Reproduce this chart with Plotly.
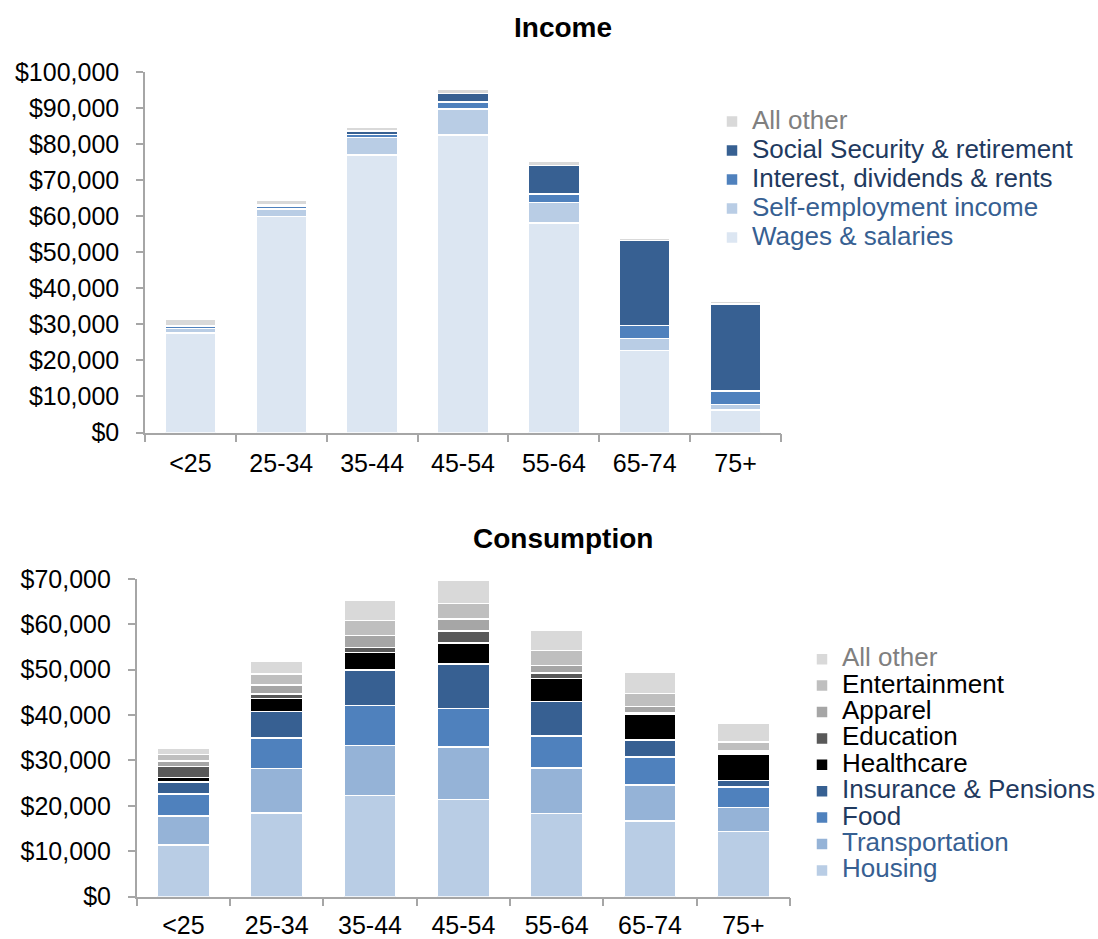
import plotly.graph_objects as go

W, H = 1098, 939

ages = ["<25", "25-34", "35-44", "45-54", "55-64", "65-74", "75+"]

# Income components ($)
wages = [27600, 59900, 77000, 82500, 58100, 22800, 6300]
self_employment = [1300, 2100, 4800, 7300, 5700, 3300, 1500]
interest = [500, 700, 800, 1900, 2300, 3600, 3700]
social_security = [300, 400, 1100, 2400, 7900, 23600, 24100]
income_other = [1700, 1200, 1100, 1100, 1200, 600, 700]

# Consumption components ($)
housing = [11400, 18400, 22300, 21400, 18300, 16600, 14300]
transportation = [6400, 9800, 11000, 11600, 10000, 8000, 5300]
food = [4800, 6700, 8800, 8500, 7100, 6200, 4500]
insurance = [2600, 5900, 7800, 9800, 7600, 3700, 1500]
healthcare = [1000, 2800, 3900, 4600, 5100, 5700, 5700]
education = [2500, 1100, 1100, 2600, 1200, 300, 300]
apparel = [1200, 1900, 2600, 2700, 1600, 1400, 500]
entertainment = [1400, 2500, 3300, 3400, 3300, 2900, 2000]
consumption_other = [1300, 2800, 4500, 5200, 4600, 4600, 4000]

FONT = "Liberation Sans, Arial, sans-serif"
DARK = "#1f3a60"
BLUE = "#376092"
GRAY_TXT = "#808080"
BLACK = "#000000"

income_series = [
    ("Wages & salaries", wages, "#dce6f2", BLUE),
    ("Self-employment income", self_employment, "#b9cde5", BLUE),
    ("Interest, dividends & rents", interest, "#4f81bd", DARK),
    ("Social Security & retirement", social_security, "#376092", DARK),
    ("All other", income_other, "#d9d9d9", GRAY_TXT),
]

consumption_series = [
    ("Housing", housing, "#b9cde5", BLUE),
    ("Transportation", transportation, "#95b3d7", BLUE),
    ("Food", food, "#4f81bd", DARK),
    ("Insurance & Pensions", insurance, "#376092", DARK),
    ("Healthcare", healthcare, "#000000", BLACK),
    ("Education", education, "#595959", BLACK),
    ("Apparel", apparel, "#a6a6a6", BLACK),
    ("Entertainment", entertainment, "#bfbfbf", BLACK),
    ("All other", consumption_other, "#d9d9d9", GRAY_TXT),
]

fig = go.Figure()

for name, vals, color, tcol in income_series:
    fig.add_trace(go.Bar(
        x=ages, y=vals, xaxis="x", yaxis="y",
        name=f"<span style='font-size:26px;color:{tcol}'>{name}</span>",
        marker=dict(color=color, line=dict(color="white", width=1.5)),
        legend="legend",
    ))

for name, vals, color, tcol in consumption_series:
    fig.add_trace(go.Bar(
        x=ages, y=vals, xaxis="x2", yaxis="y2",
        name=f"<span style='font-size:26px;color:{tcol}'>{name}</span>",
        marker=dict(color=color, line=dict(color="white", width=1.5)),
        legend="legend2",
    ))


def px_x(p):
    return p / W


def px_y(p):
    return (H - p) / H


axis_common = dict(
    showline=True, linecolor="#a6a6a6", linewidth=1.5,
    ticks="outside", tickcolor="#a6a6a6", tickwidth=1.5,
    showgrid=False, zeroline=False,
    tickfont=dict(family=FONT, size=25, color="black"),
)

fig.update_layout(
    width=W, height=H,
    margin=dict(l=0, r=0, t=0, b=0, autoexpand=False),
    paper_bgcolor="white", plot_bgcolor="white",
    barmode="stack", bargap=0.44,
    font=dict(family=FONT, color="black"),
    xaxis=dict(domain=[px_x(145), px_x(781)], anchor="y", type="category",
               tickson="boundaries", ticklen=8, ticklabelstandoff=8, **axis_common),
    yaxis=dict(domain=[px_y(432.5), px_y(72)], anchor="x", range=[0, 100000],
               dtick=10000, tickprefix="$", tickformat=",d", ticklen=7,
               ticklabelstandoff=12, **axis_common),
    xaxis2=dict(domain=[px_x(136.7), px_x(790)], anchor="y2", type="category",
                tickson="boundaries", ticklen=8, ticklabelstandoff=6, **axis_common),
    yaxis2=dict(domain=[px_y(896.5), px_y(579)], anchor="x2", range=[0, 70000],
                dtick=10000, tickprefix="$", tickformat=",d", ticklen=7,
                ticklabelstandoff=12, **axis_common),
    legend=dict(x=px_x(712), y=px_y(102), xanchor="left", yanchor="top",
                traceorder="reversed", font=dict(family=FONT, size=20),
                bgcolor="rgba(0,0,0,0)"),
    legend2=dict(x=px_x(802), y=px_y(641), xanchor="left", yanchor="top",
                 traceorder="reversed", font=dict(family=FONT, size=18),
                 bgcolor="rgba(0,0,0,0)"),
    annotations=[
        dict(text="<b>Income</b>", x=px_x(563), y=px_y(28), xref="paper", yref="paper",
             xanchor="center", yanchor="middle", showarrow=False,
             font=dict(family=FONT, size=28, color="black")),
        dict(text="<b>Consumption</b>", x=px_x(563), y=px_y(538), xref="paper", yref="paper",
             xanchor="center", yanchor="middle", showarrow=False,
             font=dict(family=FONT, size=28, color="black")),
    ],
)

fig.write_html("out.html")
